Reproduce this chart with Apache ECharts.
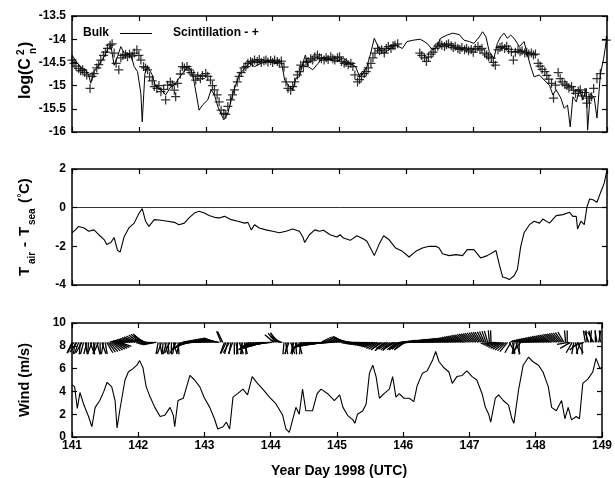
<!DOCTYPE html>
<html><head><meta charset="utf-8">
<script src="https://cdn.jsdelivr.net/npm/echarts@6.0.0/dist/echarts.min.js"></script>
<style>html,body{margin:0;padding:0;background:#fff}#c{width:615px;height:478px}</style>
</head><body><div id="c"></div>
<script>
// ---------- DATA ----------
const xTicks = [141, 142, 143, 144, 145, 146, 147, 148, 149];

// Top panel: log(Cn^2), bulk estimate (line)
const bulkDays = [141.00,141.08,141.15,141.20,141.25,141.28,141.33,141.40,141.48,141.53,141.58,141.63,141.68,141.73,141.78,141.83,141.88,141.93,141.98,142.03,142.05,142.09,142.13,142.20,142.25,142.33,142.40,142.48,142.53,142.58,142.65,142.73,142.78,142.83,142.90,142.95,143.03,143.08,143.13,143.18,143.27,143.33,143.38,143.43,143.50,143.58,143.65,143.73,143.83,143.93,144.03,144.13,144.18,144.25,144.30,144.35,144.40,144.45,144.49,144.53,144.60,144.68,144.76,144.86,144.96,145.06,145.16,145.24,145.29,145.34,145.41,145.46,145.52,145.59,145.66,145.74,145.84,145.94,146.01,146.11,146.21,146.31,146.39,146.44,146.51,146.61,146.69,146.79,146.86,146.94,147.01,147.09,147.14,147.19,147.24,147.31,147.36,147.41,147.46,147.51,147.56,147.61,147.69,147.76,147.81,147.86,147.91,147.99,148.06,148.14,148.19,148.24,148.31,148.36,148.41,148.45,148.49,148.54,148.59,148.64,148.69,148.71,148.75,148.81,148.85,148.90,148.95,149.00];
const bulkLog = [-14.34,-14.52,-14.63,-14.66,-14.77,-14.95,-14.70,-14.56,-14.38,-14.23,-14.13,-14.56,-14.38,-14.16,-14.30,-14.30,-14.34,-14.59,-14.70,-15.17,-15.78,-14.74,-14.59,-14.77,-15.02,-15.09,-15.20,-15.02,-14.99,-14.88,-14.74,-14.59,-14.66,-14.95,-15.53,-15.42,-15.31,-15.09,-15.20,-15.45,-15.74,-15.60,-15.31,-15.06,-14.77,-14.63,-14.52,-14.59,-14.52,-14.48,-14.52,-14.48,-14.88,-15.02,-15.09,-14.84,-14.81,-14.52,-14.34,-14.59,-14.66,-14.52,-14.38,-14.45,-14.48,-14.41,-14.52,-14.59,-14.77,-14.77,-14.59,-14.34,-13.98,-14.20,-14.30,-14.23,-14.13,-14.20,-14.05,-14.02,-14.00,-14.09,-14.23,-14.20,-13.98,-13.91,-13.87,-13.90,-14.02,-14.05,-14.09,-13.95,-13.84,-13.95,-14.27,-14.41,-14.09,-13.95,-13.87,-13.98,-13.91,-13.98,-14.16,-14.05,-14.34,-14.59,-14.81,-14.77,-14.88,-14.99,-15.20,-15.09,-15.27,-15.49,-15.42,-15.89,-15.24,-15.35,-15.09,-15.31,-15.06,-15.96,-15.17,-15.27,-15.70,-14.77,-14.41,-13.95];

// Top panel: log(Cn^2), scintillation (+ markers)
const scintDays = [141.00,141.03,141.06,141.10,141.13,141.16,141.19,141.22,141.27,141.30,141.33,141.37,141.40,141.43,141.47,141.50,141.53,141.57,141.60,141.63,141.66,141.70,141.73,141.76,141.80,141.83,141.86,141.90,141.93,141.97,142.00,142.03,142.07,142.10,142.13,142.16,142.20,142.23,142.27,142.30,142.33,142.37,142.40,142.43,142.47,142.50,142.53,142.55,142.58,142.62,142.65,142.68,142.72,142.75,142.78,142.82,142.85,142.88,142.92,142.95,143.00,143.03,143.07,143.10,143.13,143.17,143.20,143.23,143.27,143.30,143.33,143.37,143.40,143.43,143.47,143.50,143.53,143.57,143.60,143.63,143.67,143.70,143.73,143.77,143.80,143.83,143.87,143.90,143.93,143.97,144.00,144.03,144.07,144.10,144.13,144.17,144.20,144.23,144.27,144.30,144.33,144.37,144.40,144.42,144.46,144.50,144.53,144.57,144.60,144.63,144.67,144.70,144.73,144.77,144.80,144.83,144.87,144.90,144.93,144.97,145.00,145.03,145.07,145.10,145.13,145.17,145.20,145.23,145.27,145.30,145.33,145.37,145.40,145.43,145.47,145.50,145.53,145.57,145.60,145.63,145.67,145.70,145.73,145.77,145.80,145.83,145.87,146.20,146.23,146.27,146.30,146.33,146.37,146.40,146.43,146.47,146.50,146.53,146.57,146.60,146.63,146.67,146.70,146.73,146.77,146.80,146.83,146.87,146.90,146.93,146.97,147.00,147.03,147.07,147.10,147.13,147.17,147.20,147.23,147.27,147.30,147.33,147.37,147.40,147.43,147.47,147.50,147.53,147.57,147.60,147.63,147.67,147.70,147.73,147.77,147.80,147.83,147.87,147.90,147.93,147.97,148.00,148.03,148.07,148.10,148.13,148.17,148.20,148.23,148.27,148.30,148.33,148.37,148.40,148.43,148.47,148.50,148.53,148.57,148.60,148.63,148.67,148.70,148.73,148.77,148.80,148.85,148.90,148.99];
const scintLog = [-14.45,-14.52,-14.58,-14.63,-14.68,-14.66,-14.72,-14.77,-15.06,-14.80,-14.74,-14.62,-14.55,-14.45,-14.35,-14.28,-14.20,-14.13,-14.10,-14.30,-14.52,-14.66,-14.40,-14.35,-14.33,-14.38,-14.32,-14.36,-14.30,-14.23,-14.35,-14.45,-14.59,-14.62,-14.66,-14.81,-14.90,-15.02,-15.06,-15.00,-15.13,-15.08,-15.31,-14.99,-14.92,-14.98,-15.10,-15.24,-14.95,-14.75,-14.59,-14.62,-14.59,-14.66,-14.72,-14.77,-14.88,-14.80,-14.85,-14.78,-14.74,-14.80,-14.88,-15.00,-15.09,-15.20,-15.35,-15.53,-15.60,-15.62,-15.45,-15.31,-15.20,-15.09,-14.92,-14.80,-14.72,-14.62,-14.59,-14.52,-14.48,-14.50,-14.45,-14.48,-14.44,-14.50,-14.47,-14.45,-14.49,-14.46,-14.50,-14.45,-14.48,-14.52,-14.47,-14.60,-14.92,-15.06,-15.10,-15.02,-14.92,-14.77,-14.70,-14.56,-14.59,-14.50,-14.48,-14.42,-14.45,-14.38,-14.34,-14.40,-14.42,-14.45,-14.40,-14.44,-14.38,-14.42,-14.45,-14.40,-14.38,-14.48,-14.52,-14.50,-14.55,-14.52,-14.59,-14.77,-14.92,-14.87,-14.80,-14.74,-14.70,-14.62,-14.52,-14.40,-14.30,-14.20,-14.25,-14.23,-14.30,-14.20,-14.16,-14.20,-14.14,-14.13,-14.10,-14.30,-14.35,-14.40,-14.48,-14.38,-14.32,-14.28,-14.20,-14.15,-14.10,-14.13,-14.16,-14.12,-14.10,-14.14,-14.18,-14.15,-14.20,-14.22,-14.18,-14.23,-14.20,-14.25,-14.22,-14.28,-14.20,-14.16,-14.23,-14.20,-14.30,-14.34,-14.38,-14.41,-14.50,-14.56,-14.23,-14.18,-14.16,-14.20,-14.15,-14.22,-14.27,-14.45,-14.28,-14.23,-14.27,-14.25,-14.30,-14.28,-14.32,-14.30,-14.34,-14.32,-14.52,-14.58,-14.65,-14.70,-14.78,-14.86,-14.95,-15.27,-14.99,-14.72,-14.85,-14.92,-14.97,-15.00,-15.05,-15.02,-15.10,-15.17,-15.12,-15.09,-15.22,-15.15,-15.38,-15.27,-15.24,-15.06,-14.85,-14.74,-14.02];

// Middle panel: Tair - Tsea (°C)
const dtDays = [141.00,141.05,141.10,141.18,141.25,141.33,141.40,141.48,141.52,141.58,141.63,141.68,141.72,141.78,141.85,141.93,142.00,142.05,142.10,142.15,142.23,142.33,142.43,142.53,142.60,142.68,142.75,142.83,142.90,142.98,143.05,143.13,143.20,143.28,143.38,143.48,143.58,143.63,143.68,143.73,143.80,143.90,144.00,144.10,144.20,144.30,144.40,144.45,144.48,144.55,144.63,144.70,144.76,144.86,144.96,145.01,145.06,145.16,145.26,145.36,145.41,145.52,145.59,145.66,145.74,145.84,145.94,146.04,146.14,146.24,146.34,146.44,146.49,146.54,146.64,146.74,146.84,146.91,147.01,147.11,147.21,147.34,147.39,147.44,147.49,147.54,147.61,147.66,147.71,147.76,147.84,147.91,147.99,148.04,148.14,148.24,148.34,148.44,148.49,148.54,148.56,148.61,148.66,148.70,148.74,148.79,148.85,148.91,148.96,149.00];
const dtVals = [-1.30,-1.15,-0.97,-1.05,-1.22,-1.15,-1.40,-1.65,-1.90,-1.80,-1.55,-2.20,-2.30,-1.50,-1.05,-0.80,-0.30,-0.05,-0.70,-0.97,-0.62,-0.65,-0.70,-0.76,-0.88,-0.80,-0.53,-0.28,-0.19,-0.28,-0.41,-0.50,-0.53,-0.45,-0.62,-0.70,-0.80,-0.76,-1.15,-0.88,-1.05,-1.15,-1.22,-1.30,-1.22,-1.10,-1.22,-1.50,-1.80,-1.40,-1.15,-1.22,-1.17,-1.40,-1.52,-1.40,-1.57,-1.69,-1.45,-1.62,-1.74,-2.48,-1.91,-1.45,-1.65,-2.09,-2.26,-2.55,-2.26,-2.09,-2.00,-2.00,-2.09,-2.38,-2.48,-2.43,-2.48,-2.17,-2.17,-2.60,-2.48,-2.22,-2.95,-3.59,-3.64,-3.72,-3.52,-3.20,-2.00,-1.30,-0.88,-0.70,-0.80,-0.59,-0.80,-0.41,-0.36,-0.24,-0.45,-0.45,-1.10,-0.70,-0.88,0.03,0.45,0.41,0.28,0.84,1.28,1.97];

// Bottom panel: wind speed (m/s)
const windDays = [141.00,141.04,141.08,141.12,141.18,141.25,141.30,141.35,141.42,141.48,141.53,141.60,141.65,141.68,141.72,141.80,141.85,141.92,141.98,142.02,142.07,142.12,142.18,142.25,142.33,142.40,142.48,142.53,142.55,142.60,142.68,142.73,142.78,142.85,142.93,143.00,143.08,143.15,143.20,143.28,143.33,143.38,143.43,143.50,143.58,143.65,143.72,143.80,143.88,143.98,144.08,144.18,144.23,144.28,144.33,144.38,144.43,144.48,144.53,144.63,144.70,144.76,144.86,144.96,145.04,145.09,145.16,145.24,145.27,145.31,145.39,145.44,145.49,145.54,145.59,145.64,145.71,145.79,145.84,145.89,145.94,146.01,146.09,146.16,146.21,146.29,146.36,146.44,146.49,146.54,146.61,146.69,146.74,146.81,146.89,146.96,147.04,147.11,147.19,147.24,147.29,147.32,147.39,147.44,147.51,147.59,147.64,147.67,147.74,147.81,147.89,147.96,148.04,148.11,148.19,148.24,148.31,148.39,148.44,148.49,148.54,148.61,148.66,148.71,148.79,148.86,148.91,148.97,149.00];
const windSpeed = [4.6,4.4,2.5,3.9,2.8,1.8,0.9,2.6,3.2,4.0,4.8,4.4,3.2,0.8,2.3,5.0,5.7,6.0,6.3,6.7,6.1,4.4,3.5,2.6,1.8,1.9,2.6,1.9,0.9,3.2,3.4,4.4,5.4,5.0,4.4,3.4,2.6,1.6,0.7,0.9,1.3,0.7,3.5,3.8,4.2,3.7,5.3,4.7,4.2,3.5,2.9,1.9,0.7,0.4,1.5,2.6,2.0,4.2,2.3,2.3,3.8,4.2,3.8,3.2,3.7,2.6,1.9,1.5,1.2,2.0,2.3,2.9,5.6,6.3,5.3,3.4,3.8,4.2,5.3,3.5,3.8,3.4,3.4,3.1,4.5,5.6,5.8,6.7,7.5,6.6,6.1,5.7,4.7,5.3,5.4,5.8,5.3,5.0,3.8,2.6,2.0,1.3,3.4,3.7,3.2,2.8,1.6,1.2,4.1,6.3,7.0,6.6,6.3,5.7,4.4,2.6,2.3,3.2,1.6,2.6,1.5,1.8,1.6,4.7,5.1,5.7,6.9,6.0,6.1];

// Wind direction sticks: one every 0.025 day from day 141 (angle in degrees, 0 = right, 90 = up)
const stickStart = 141, stickStep = 0.025;
const stickAngles = [
-115,-120,-100,-125,-110,-95,-120,-105,
-80,-105,-95,-70,-110,-85,-100,-75,-115,-90,-70,-100,-80,-60,
-55,-50,-45,-40,-35,-30,-25,-20,
178,175,172,170,167,164,160,157,153,148,142,138,135,140,150,165,
-178,-175,-172,-170,-168,-175,
-100,-80,-110,-95,-75,-105,-85,-115,-90,-70,-100,-120,-85,-105,
-140,-145,-150,-155,-160,-165,-170,-175,
178,176,175,173,172,170,168,167,165,163,162,160,158,160,165,170,
112,115,
-110,-115,-105,-120,-100,-110,
-90,-80,-95,-70,-85,-100,-75,-90,
-140,-142,-145,-148,-150,-152,-155,-158,-160,-162,-165,-168,-170,-172,-175,-178,
140,130,125,135,150,170,
-95,-80,-100,-110,-70,-90,-105,-85,-115,-75,-95,
-150,-152,-155,-157,-160,-160,-162,-163,-165,-166,-168,-169,-170,-172,-173,-175,-176,-178,-179,
175,170,165,160,155,152,150,155,160,165,170,175,
-178,-176,-175,-173,-172,-170,-170,-168,-167,-165,-163,-160,-158,-155,
-150,-145,-140,-145,-135,-140,-150,-145,-140,-138,-145,-150,-142,-140,-148,-145,-140,-145,
-170,-175,-178,180,178,177,176,175,174,173,
172,171,170,170,169,168,167,166,165,165,164,163,162,161,160,160,
158,156,154,152,150,148,146,144,142,140,138,136,134,132,130,128,126,124,122,120,117,114,110,106,
95,92,
-175,-170,-165,-160,-155,-150,-145,-140,-135,-130,
-60,-120,-80,-100,-70,-110,-90,-130,
175,172,170,168,166,164,162,160,158,156,154,152,150,148,146,144,142,140,138,136,134,132,130,128,125,120,
95,90,
-170,-150,-120,-100,-80,-60,-140,-110,-90,-160,
100,95,110,85,105,120,90,100,80,95];

// ---------- CHART ----------
const FONT = '"Liberation Sans", Arial, sans-serif';
const zip = (a, b) => a.map((v, i) => [v, b[i]]);
const STICK_BASE = 8.3, STICK_LEN = 12;
const stickData = stickAngles.map((a, i) => [stickStart + i * stickStep, a]);

const grids = [
  {left: 72, right: 8, top: 16, height: 116},
  {left: 72, right: 8, top: 169, height: 116},
  {left: 72, right: 8, top: 323, height: 114}
];
const yRanges = [[-16, -13.5, 0.5], [-4, 2, 2], [0, 10, 2]];

const axLine = {show: true, onZero: false, lineStyle: {color: '#000', width: 1.5}};
const axTick = {show: true, inside: true, length: 5, lineStyle: {color: '#000', width: 1.2}};
const xAxes = [], yAxes = [];
grids.forEach((g, i) => {
  ['bottom', 'top'].forEach(pos => {
    xAxes.push({
      gridIndex: i, type: 'value', position: pos, min: xTicks[0], max: xTicks[xTicks.length - 1], interval: 1,
      axisLine: axLine, axisTick: axTick, splitLine: {show: false},
      axisLabel: {show: i === 2 && pos === 'bottom', color: '#000', fontFamily: FONT, fontWeight: 'bold', fontSize: 12, margin: 3}
    });
  });
  ['left', 'right'].forEach(pos => {
    yAxes.push({
      gridIndex: i, type: 'value', position: pos, min: yRanges[i][0], max: yRanges[i][1], interval: yRanges[i][2],
      axisLine: axLine, axisTick: axTick, splitLine: {show: false},
      axisLabel: {show: pos === 'left', color: '#000', fontFamily: FONT, fontWeight: 'bold', fontSize: 12, margin: 6}
    });
  });
});

const plus = 'path://M4.3,0H5.7V4.3H10V5.7H5.7V10H4.3V5.7H0V4.3H4.3Z';
const txt = (text, x, y, size, align, extra) => Object.assign({
  type: 'text', x: x, y: y,
  style: {text: text, fill: '#000', font: 'bold ' + size + 'px ' + FONT,
    align: align || 'left', verticalAlign: 'middle', textAlign: align || 'left', textVerticalAlign: 'middle'}
}, extra || {});

const option = {
  animation: false,
  backgroundColor: '#fff',
  grid: grids,
  xAxis: xAxes,
  yAxis: yAxes,
  series: [
    {type: 'line', xAxisIndex: 0, yAxisIndex: 0, data: zip(bulkDays, bulkLog), showSymbol: false,
      lineStyle: {color: '#000', width: 1}, z: 3},
    {type: 'scatter', xAxisIndex: 0, yAxisIndex: 0, data: zip(scintDays, scintLog), symbol: plus, symbolSize: 9,
      itemStyle: {color: '#000'}, z: 4},
    {type: 'line', xAxisIndex: 2, yAxisIndex: 2, data: zip(dtDays, dtVals), showSymbol: false,
      lineStyle: {color: '#000', width: 1.1},
      markLine: {silent: true, symbol: ['none', 'none'], label: {show: false},
        lineStyle: {color: '#000', width: 0.8, type: 'solid'}, data: [{yAxis: 0}]}},
    {type: 'line', xAxisIndex: 4, yAxisIndex: 4, data: zip(windDays, windSpeed), showSymbol: false,
      lineStyle: {color: '#000', width: 1.1}},
    {type: 'custom', xAxisIndex: 4, yAxisIndex: 4, data: stickData, encode: {x: 0, y: 1},
      renderItem: function (params, api) {
        const t = api.value(0), a = api.value(1) * Math.PI / 180;
        const p = api.coord([t, STICK_BASE]);
        return {type: 'line', shape: {x1: p[0], y1: p[1], x2: p[0] + STICK_LEN * Math.cos(a), y2: p[1] - STICK_LEN * Math.sin(a)},
          style: {stroke: '#000', lineWidth: 1.3}};
      }}
  ],
  graphic: [
    // legend
    txt('Bulk', 83, 33, 12, 'left'),
    {type: 'line', shape: {x1: 120, y1: 33.5, x2: 152, y2: 33.5}, style: {stroke: '#000', lineWidth: 1}},
    txt('Scintillation - +', 173, 33, 12, 'left'),
    // y names
    {type: 'group', x: 26, y: 99, rotation: Math.PI / 2, children: [
      txt('log(C', 0, 0, 16),
      txt('2', 44, -5, 10),
      txt('n', 45, 7, 10),
      txt(')', 52, 0, 16)
    ]},
    {type: 'group', x: 25, y: 276, rotation: Math.PI / 2, children: [
      txt('T', 0, 0, 15),
      txt('air', 12, 7, 10),
      txt('-', 29, 0, 15),
      txt('T', 40, 0, 15),
      txt('sea', 51, 7, 10),
      txt('(', 73, 0, 15),
      txt('°', 78.5, -3, 10),
      txt('C)', 82, 0, 15)
    ]},
    {type: 'group', x: 25, y: 380, rotation: Math.PI / 2, children: [
      txt('Wind (m/s)', 0, 0, 14.5, 'center')
    ]},
    txt('Year Day 1998 (UTC)', 339, 471, 14, 'center')
  ]
};

const chart = echarts.init(document.getElementById('c'), null, {renderer: 'canvas'});
chart.setOption(option);
</script></body></html>
